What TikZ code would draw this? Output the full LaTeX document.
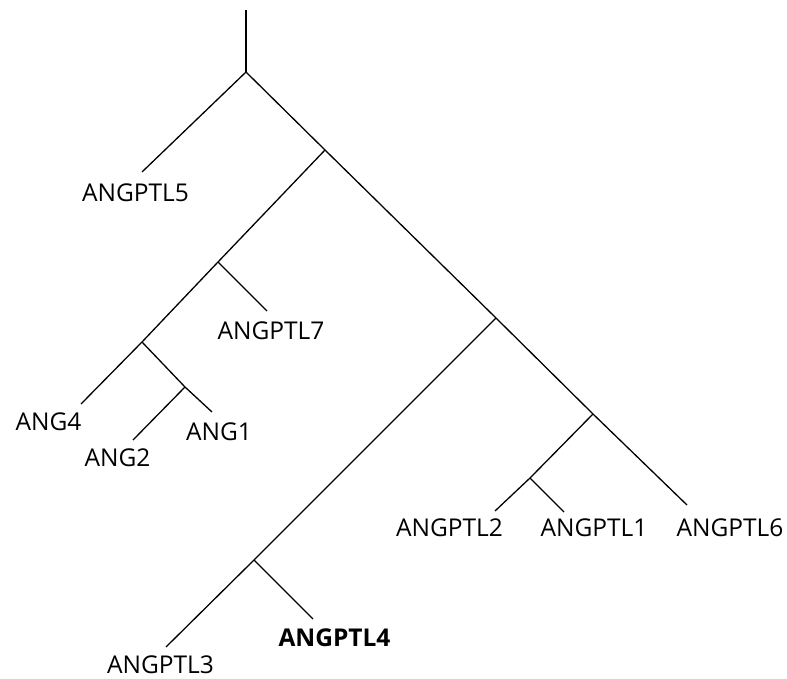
\documentclass[tikz,border=0pt]{standalone}
\usepackage{fontspec}
\setmainfont{Open Sans}
\begin{document}
\begin{tikzpicture}[x=1pt,y=-1pt,
  branch/.style={draw=black,line width=1.3pt},
  leaf/.style={font=\fontsize{24.5}{28}\selectfont,inner sep=0pt,anchor=base}]
\useasboundingbox (0,0) rectangle (787,678);
% internal nodes
\coordinate (top) at (246,10);
\coordinate (root) at (246,72);
\coordinate (n1) at (325,150);
\coordinate (n2) at (218,262);
\coordinate (n3) at (142,342);
\coordinate (n4) at (185,387);
\coordinate (n5) at (496,318);
\coordinate (n6) at (254,560);
\coordinate (n7) at (593,414);
\coordinate (n8) at (530,478);
% leaf ends
\coordinate (e5) at (142,172);
\coordinate (e7) at (267,311);
\coordinate (eA4) at (81,404);
\coordinate (eA1) at (212,412);
\coordinate (eA2) at (133,440);
\coordinate (e3) at (166,647);
\coordinate (e4) at (313,619);
\coordinate (e2) at (495,511);
\coordinate (e1) at (564,512);
\coordinate (e6) at (687,505);
% edges
\draw[branch] (top) -- (root);
\draw[branch] (root) -- (e5);
\draw[branch] (root) -- (n1);
\draw[branch] (n1) -- (n5);
\draw[branch] (n5) -- (n7);
\draw[branch] (n7) -- (e6);
\draw[branch] (n1) -- (n2);
\draw[branch] (n2) -- (e7);
\draw[branch] (n2) -- (n3);
\draw[branch] (n3) -- (eA4);
\draw[branch] (n3) -- (n4);
\draw[branch] (n4) -- (eA1);
\draw[branch] (n4) -- (eA2);
\draw[branch] (n5) -- (n6);
\draw[branch] (n6) -- (e3);
\draw[branch] (n6) -- (e4);
\draw[branch] (n7) -- (n8);
\draw[branch] (n8) -- (e2);
\draw[branch] (n8) -- (e1);
% labels (positioned at their baselines)
\node[leaf] (l5) at (135.5,201.5) {ANGPTL5};
\node[leaf] (l7) at (271,339) {ANGPTL7};
\node[leaf] (lA4) at (48.5,430) {ANG4};
\node[leaf] (lA1) at (219,440.5) {ANG1};
\node[leaf] (lA2) at (117.5,466) {ANG2};
\node[leaf] (l2) at (449.5,536.5) {ANGPTL2};
\node[leaf] (l1) at (594,536.5) {ANGPTL1};
\node[leaf] (l6) at (730,536.5) {ANGPTL6};
\node[leaf,font=\fontsize{24.5}{28}\selectfont\bfseries] (l4) at (334.5,646.5) {ANGPTL4};
\node[leaf] (l3) at (160.5,673.5) {ANGPTL3};
\end{tikzpicture}
\end{document}
